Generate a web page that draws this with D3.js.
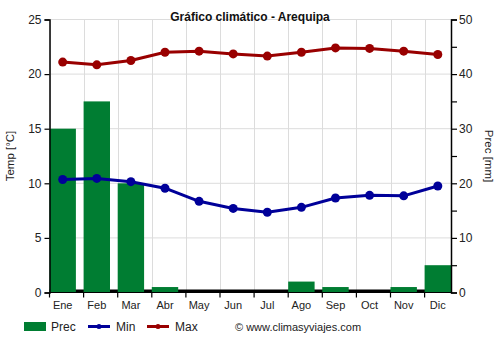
<!DOCTYPE html>
<html>
<head>
<meta charset="utf-8">
<script src="https://cdn.jsdelivr.net/npm/d3@7"></script>
<style>
  html, body { margin: 0; padding: 0; background: #fff; }
  svg { display: block; font-family: "Liberation Sans", Arial, sans-serif; }
</style>
</head>
<body>
<svg id="chart" width="500" height="350"></svg>
<script>
// Climate data for Arequipa
const months = ["Ene", "Feb", "Mar", "Abr", "May", "Jun", "Jul", "Ago", "Sep", "Oct", "Nov", "Dic"];
const precMm = [30, 35, 20, 1, 0, 0, 0, 2, 1, 0, 1, 5];
const tempMin = [10.35, 10.45, 10.15, 9.55, 8.35, 7.7, 7.35, 7.8, 8.65, 8.9, 8.85, 9.75];
const tempMax = [21.1, 20.85, 21.25, 22.0, 22.1, 21.85, 21.65, 22.0, 22.4, 22.35, 22.1, 21.8];
const tempTicks = [0, 5, 10, 15, 20, 25];
const precTicks = [0, 10, 20, 30, 40, 50];
const precMinorTicks = [0, 5, 10, 15, 20, 25, 30, 35, 40, 45, 50];

const colBar = "#007d32", colMin = "#000099", colMax = "#990000";
const plotL = 49.5, plotR = 451, plotT = 19.5, plotB = 292.5;

const svg = d3.select("#chart");

const x = d3.scaleBand().domain(months).range([plotL, plotR]).paddingInner(0.226).paddingOuter(0);
const bw = x.bandwidth();
const yT = d3.scaleLinear().domain([0, 25]).range([plotB, plotT]);
const yP = d3.scaleLinear().domain([0, 50]).range([plotB, plotT]);

// grid
const grid = svg.append("g").attr("stroke", "#dcdcdc").attr("stroke-width", 1);
tempTicks.forEach(t => grid.append("line")
  .attr("x1", plotL).attr("x2", plotR).attr("y1", yT(t)).attr("y2", yT(t)));
months.forEach(m => grid.append("line")
  .attr("x1", Math.round(x(m)) + 0.5).attr("x2", Math.round(x(m)) + 0.5)
  .attr("y1", plotT).attr("y2", plotB));

// baseline strip beneath the bars
svg.append("line").attr("x1", plotL).attr("x2", plotR)
  .attr("y1", plotB - 1.5).attr("y2", plotB - 1.5)
  .attr("stroke", "#000").attr("stroke-width", 3);

// precipitation bars
svg.append("g").selectAll("rect").data(precMm).join("rect")
  .attr("x", (d, i) => x(months[i]))
  .attr("width", bw)
  .attr("y", d => yP(d))
  .attr("height", d => plotB - yP(d))
  .attr("fill", colBar);

// temperature lines
function series(vals, color) {
  const pts = vals.map((v, i) => [x(months[i]) + bw / 2, yT(v)]);
  svg.append("path").attr("d", d3.line()(pts))
    .attr("fill", "none").attr("stroke", color).attr("stroke-width", 3)
    .attr("stroke-linejoin", "round");
  svg.append("g").selectAll("circle").data(pts).join("circle")
    .attr("cx", d => d[0]).attr("cy", d => d[1]).attr("r", 4.5).attr("fill", color);
}
series(tempMin, colMin);
series(tempMax, colMax);

// axes
const axL = d3.axisLeft(yT).tickValues(tempTicks).tickSize(5).tickPadding(3);
const gL = svg.append("g").attr("transform", `translate(${plotL},0)`).call(axL);
const axR = d3.axisRight(yP).tickValues(precMinorTicks).tickSize(6).tickPadding(2)
  .tickFormat(d => precTicks.includes(d) ? d : "");
const gR = svg.append("g").attr("transform", `translate(${plotR},0)`).call(axR);
const axB = d3.axisBottom(x).tickSize(5).tickPadding(4);
const gB = svg.append("g").attr("transform", `translate(0,${plotB})`).call(axB);
gB.selectAll(".tick line").attr("transform", `translate(${-bw / 2},0)`);
[gL, gR, gB].forEach(g => {
  g.selectAll("path").attr("stroke", "#000").attr("stroke-width", 1.5);
  g.selectAll("line").attr("stroke", "#000").attr("stroke-width", 1.2);
  g.selectAll("text").attr("fill", "#222").attr("font-size", 12)
    .attr("font-family", "'Liberation Sans', Arial, sans-serif");
});
gB.select(".domain").remove();
gB.selectAll("text").attr("font-size", 11);
svg.append("line").attr("x1", plotL).attr("x2", plotR).attr("y1", plotB).attr("y2", plotB)
  .attr("stroke", "#000").attr("stroke-width", 1.2);

// title and axis labels
svg.append("text").attr("x", 250).attr("y", 21).attr("text-anchor", "middle")
  .attr("font-size", 12).attr("font-weight", "bold").attr("fill", "#111")
  .text("Gráfico climático - Arequipa");
svg.append("text").attr("transform", `translate(14,${(plotT + plotB) / 2}) rotate(-90)`)
  .attr("text-anchor", "middle").attr("font-size", 11.5).attr("fill", "#222").text("Temp [°C]");
svg.append("text").attr("transform", `translate(485,${(plotT + plotB) / 2}) rotate(90)`)
  .attr("text-anchor", "middle").attr("font-size", 11.5).attr("fill", "#222").text("Prec [mm]");

// legend
const lg = svg.append("g").attr("font-size", 12).attr("fill", "#222");
lg.append("rect").attr("x", 24).attr("y", 322).attr("width", 22).attr("height", 9).attr("fill", colBar);
lg.append("text").attr("x", 51).attr("y", 331).text("Prec");
[[88, colMin, "Min"], [147, colMax, "Max"]].forEach(([lx, c, t]) => {
  lg.append("line").attr("x1", lx).attr("x2", lx + 22).attr("y1", 326.5).attr("y2", 326.5)
    .attr("stroke", c).attr("stroke-width", 3);
  lg.append("circle").attr("cx", lx + 11).attr("cy", 326.5).attr("r", 2.5).attr("fill", c);
  lg.append("text").attr("x", lx + 28).attr("y", 331).text(t);
});
lg.append("text").attr("x", 235).attr("y", 331).attr("font-size", 11).text("© www.climasyviajes.com");
</script>
</body>
</html>
